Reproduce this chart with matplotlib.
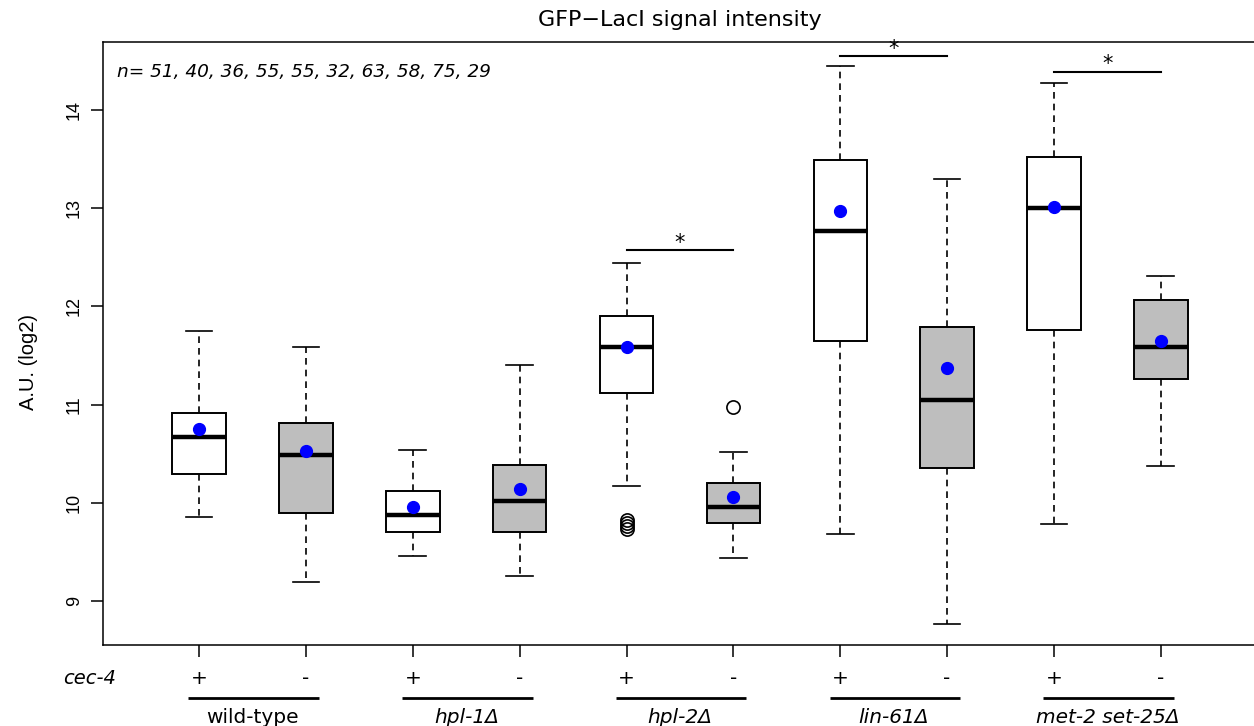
import matplotlib
matplotlib.use("Agg")
import matplotlib.pyplot as plt
import matplotlib.transforms as mtransforms

plt.rcParams["font.family"] = ["DejaVu Sans"]
ROT_FONT = ["Liberation Sans", "DejaVu Sans"]   # narrower face for the rotated texts

# ---- data ----
GROUPS   = ["wild-type", "hpl-1Δ", "hpl-2Δ", "lin-61Δ", "met-2 set-25Δ"]
CEC4     = ["+", "-"] * 5
N_COUNTS = [51, 40, 36, 55, 55, 32, 63, 58, 75, 29]
WHISLO   = [9.86, 9.19, 9.46, 9.25, 10.17, 9.44, 9.68, 8.77, 9.78, 10.37]
Q1       = [10.29, 9.90, 9.70, 9.70, 11.12, 9.79, 11.65, 10.35, 11.76, 11.26]
MED      = [10.67, 10.49, 9.88, 10.02, 11.59, 9.96, 12.77, 11.05, 13.00, 11.59]
Q3       = [10.91, 10.81, 10.12, 10.38, 11.90, 10.20, 13.49, 11.79, 13.52, 12.07]
WHISHI   = [11.75, 11.59, 10.54, 11.40, 12.44, 10.52, 14.45, 13.30, 14.27, 12.31]
MEANS    = [10.75, 10.53, 9.96, 10.14, 11.59, 10.06, 12.97, 11.37, 13.01, 11.65]
FLIERS   = [[], [], [], [], [9.82, 9.79, 9.76, 9.73], [10.98], [], [], [], []]
SIG      = [(5, 6, 12.57), (7, 8, 14.55), (9, 10, 14.39)]

positions = list(range(1, len(MED) + 1))
stats = [dict(whislo=lo, q1=a, med=m, q3=b, whishi=hi, fliers=f)
         for lo, a, m, b, hi, f in zip(WHISLO, Q1, MED, Q3, WHISHI, FLIERS)]

fig = plt.figure(figsize=(12.54, 7.26), dpi=100)
ax = fig.add_axes([0.0821, 0.1116, 0.9203, 0.8305])

bp = ax.bxp(stats, positions=positions, widths=0.5, patch_artist=True,
            showfliers=True, capwidths=0.25,
            boxprops=dict(edgecolor="black", linewidth=1.4),
            medianprops=dict(color="black", linewidth=3.2),
            whiskerprops=dict(color="black", linewidth=1.2, linestyle=(0, (4, 3))),
            capprops=dict(color="black", linewidth=1.2),
            flierprops=dict(marker="o", markerfacecolor="none", markeredgecolor="black",
                            markersize=9.5, markeredgewidth=1.2))
for i, patch in enumerate(bp["boxes"]):
    patch.set_facecolor("white" if CEC4[i] == "+" else "#BEBEBE")

ax.plot(positions, MEANS, "o", color="blue", markersize=8.5, zorder=5)

# significance bars
for a, b, y in SIG:
    ax.plot([a, b], [y, y], color="black", lw=1.5)
    ax.text((a + b) / 2, y + 0.075, "*", ha="center", va="center", fontsize=15)

ax.set_xlim(0.1, 10.9)
ax.set_ylim(8.552, 14.692)
ax.set_yticks([9, 10, 11, 12, 13, 14])
ax.set_yticklabels(["9", "10", "11", "12", "13", "14"], rotation=90, va="center",
                   family=ROT_FONT)
ax.set_xticks(positions)
ax.set_xticklabels([])
ax.tick_params(axis="both", length=8.5, width=1.1, labelsize=13, pad=6)
for s in ax.spines.values():
    s.set_linewidth(1.1)

ax.text(0.012, 0.95, "n= " + ", ".join(str(n) for n in N_COUNTS), transform=ax.transAxes,
        style="italic", fontsize=13.3, ha="left", va="center")

# lower labels
tr = mtransforms.blended_transform_factory(ax.transData, ax.transAxes)
for p, s in zip(positions, CEC4):
    ax.text(p, -0.055, s, transform=tr, ha="center", va="center", fontsize=14.5, clip_on=False)
ax.text(-0.03, -0.055, "cec-4", transform=tr, ha="center", va="center", fontsize=14,
        style="italic", clip_on=False)
for g, name in enumerate(GROUPS):
    p1, p2 = positions[2 * g], positions[2 * g + 1]
    ax.plot([p1 - 0.1, p2 + 0.12], [-0.088, -0.088], transform=tr, color="black", lw=2,
            clip_on=False, solid_capstyle="butt")
    ax.text((p1 + p2) / 2, -0.12, name, transform=tr, ha="center", va="center",
            fontsize=14.5, style="normal" if name == "wild-type" else "italic", clip_on=False)

fig.text(0.542, 0.972, "GFP\u2212LacI signal intensity", ha="center", va="center", fontsize=16)
fig.text(0.023, 0.501, "A.U. (log2)", rotation=90, ha="center", va="center", fontsize=14.5,
         family=ROT_FONT)

fig.savefig("out.png", dpi=100)
